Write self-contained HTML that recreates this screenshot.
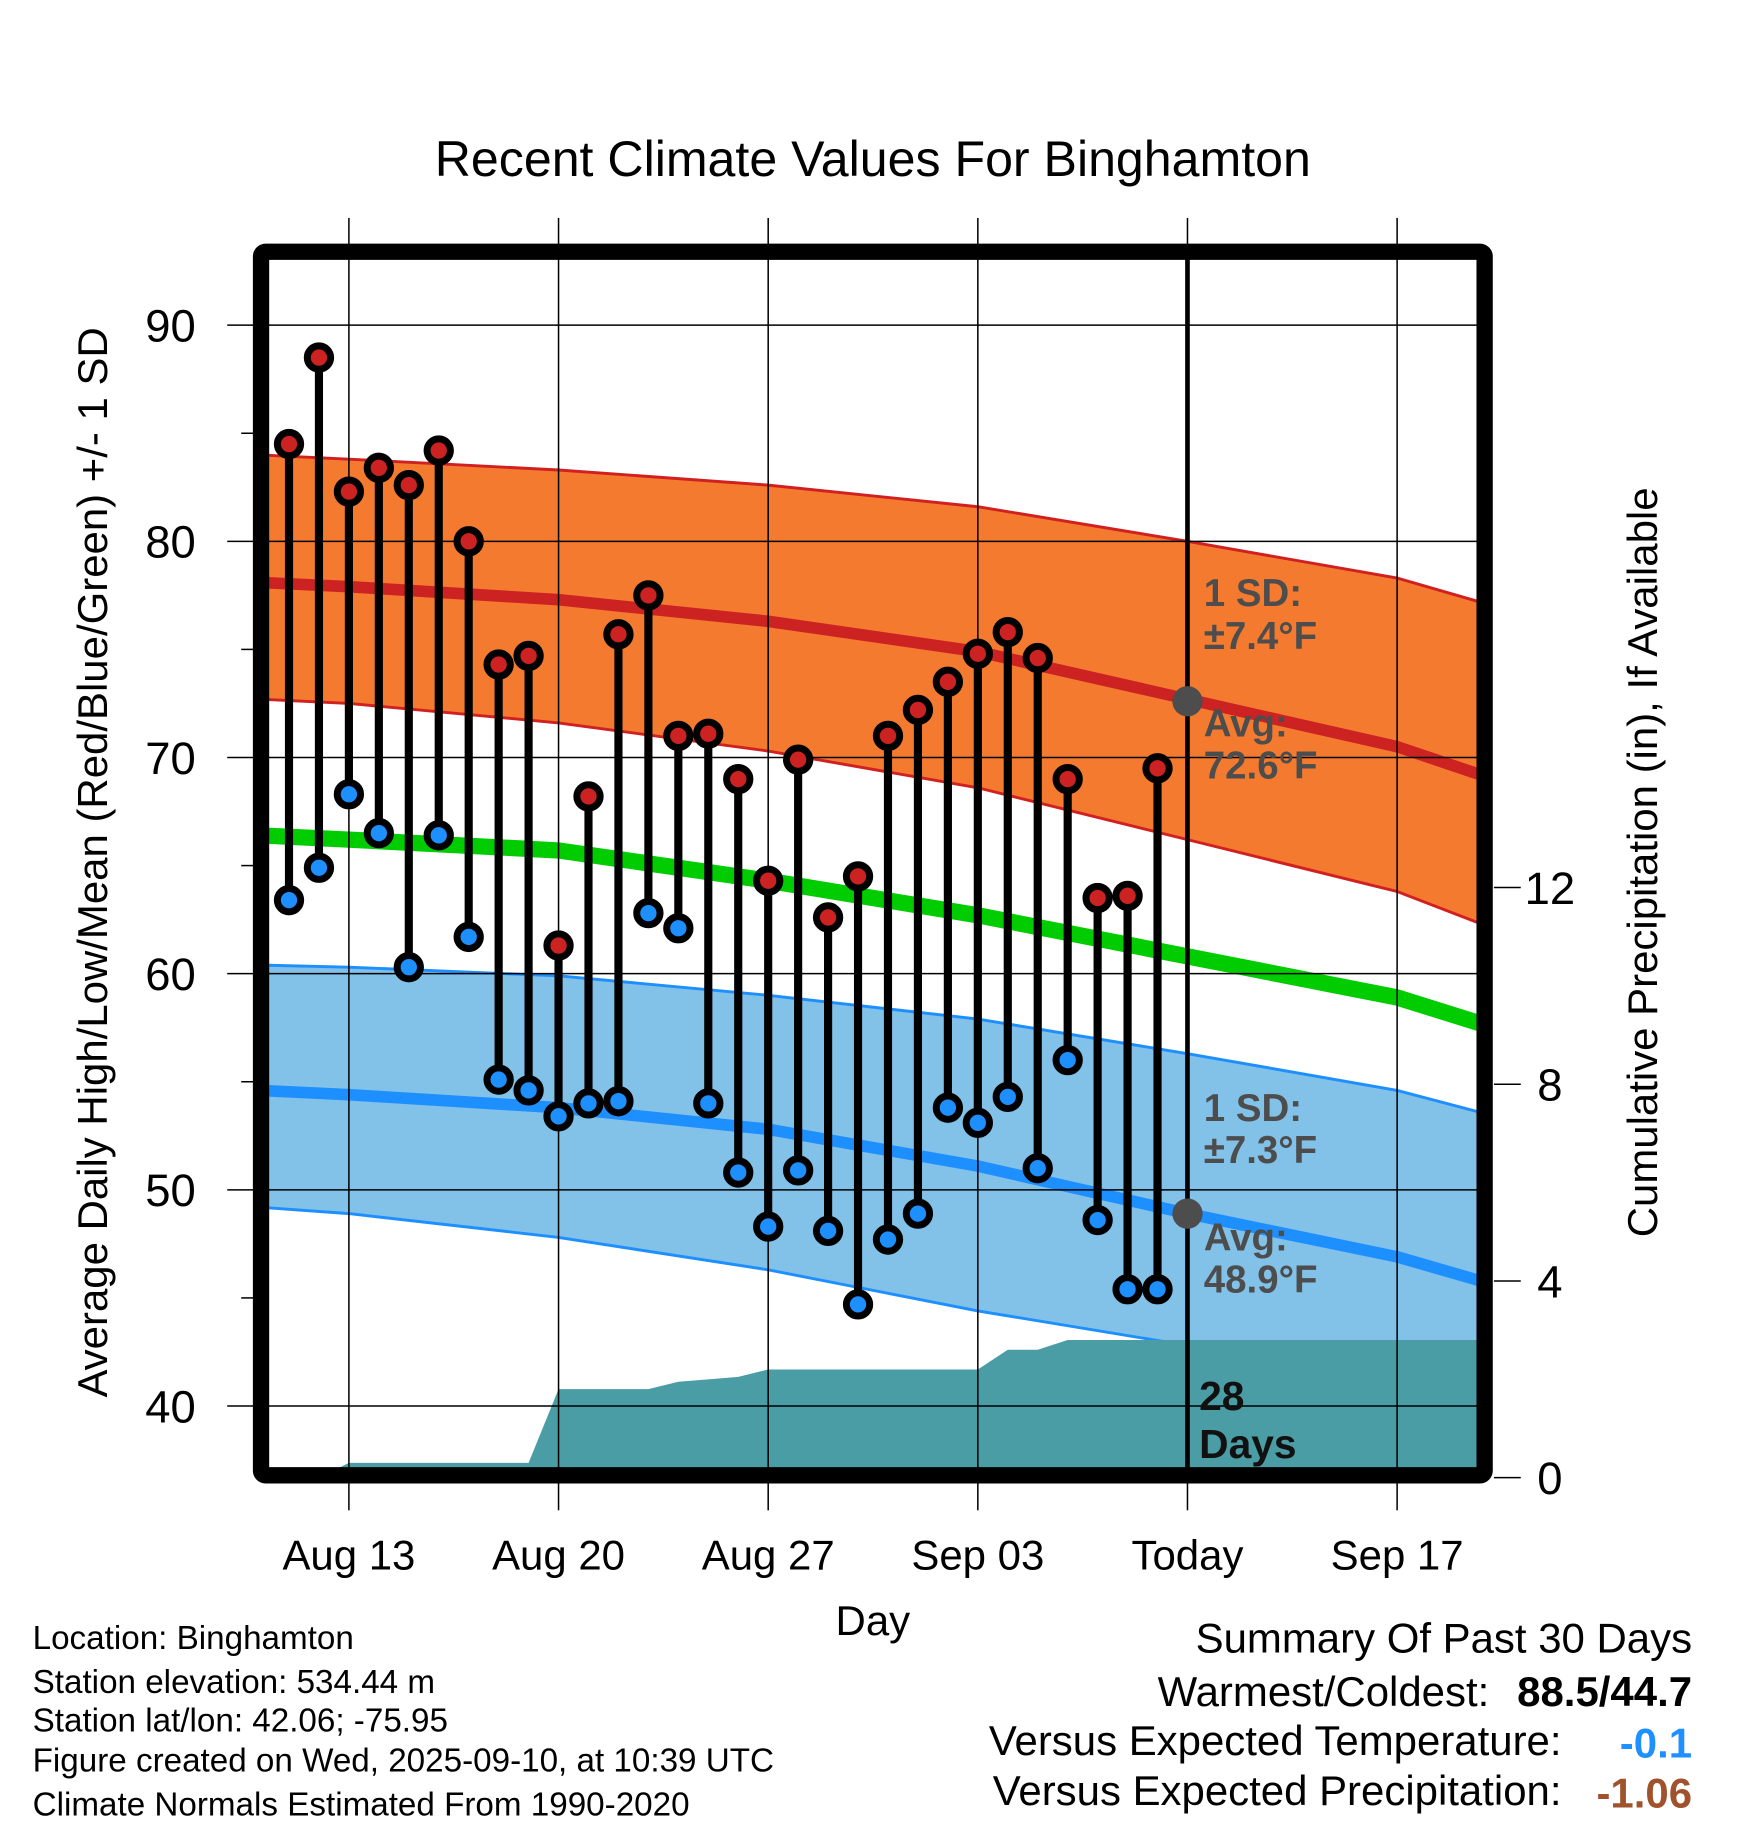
<!DOCTYPE html>
<html><head><meta charset="utf-8"><style>
html,body{margin:0;padding:0;background:#fff;}
svg{display:block;font-family:"Liberation Sans",Arial,sans-serif;}
</style></head><body>
<svg id="chart" width="1748" height="1828" viewBox="0 0 1500 1568.6" xmlns="http://www.w3.org/2000/svg">
<rect width="1500" height="1568.6" fill="#fff"/>
<text x="749" y="151" font-size="43" text-anchor="middle">Recent Climate Values For Binghamton</text>
<defs><clipPath id="inner"><rect x="230" y="222" width="1038" height="1038"/></clipPath></defs>
<g id="plot" clip-path="url(#inner)"></g>
<g id="axes"></g>
</svg>
<script>
// ---- data ----
const days = ["Aug 11","Aug 12","Aug 13","Aug 14","Aug 15","Aug 16","Aug 17","Aug 18","Aug 19","Aug 20","Aug 21","Aug 22","Aug 23","Aug 24","Aug 25","Aug 26","Aug 27","Aug 28","Aug 29","Aug 30","Aug 31","Sep 01","Sep 02","Sep 03","Sep 04","Sep 05","Sep 06","Sep 07","Sep 08","Sep 09"];
const highs = [84.5,88.5,82.3,83.4,82.6,84.2,80.0,74.3,74.7,61.3,68.2,75.7,77.5,71.0,71.1,69.0,64.3,69.9,62.6,64.5,71.0,72.2,73.5,74.8,75.8,74.6,69.0,63.5,63.6,69.5];
const lows = [63.4,64.9,68.3,66.5,60.3,66.4,61.7,55.1,54.6,53.4,54.0,54.1,62.8,62.1,54.0,50.8,48.3,50.9,48.1,44.7,47.7,48.9,53.8,53.1,54.3,51.0,56.0,48.6,45.4,45.4];
const precip = [0,0,0.3,0.3,0.3,0.3,0.3,0.3,0.3,1.8,1.8,1.8,1.8,1.95,2.0,2.05,2.2,2.2,2.2,2.2,2.2,2.2,2.2,2.2,2.6,2.6,2.8,2.8,2.8,2.8];
// normals at day offsets from Aug 11
const normDays = [-1,2,9,16,23,30,37,40];
const normHighAvg = [78.1,77.9,77.3,76.3,74.9,72.7,70.5,69.1];
const normHighUp = [84.0,83.8,83.3,82.6,81.6,80.0,78.3,77.1];
const normHighLo = [72.7,72.5,71.6,70.3,68.6,66.2,63.8,62.2];
const normMean = [66.4,66.2,65.7,64.3,62.7,60.8,58.9,57.6];
const normLowAvg = [54.6,54.4,53.8,52.8,51.1,48.9,46.9,45.7];
const normLowUp = [60.4,60.3,59.9,59.0,57.9,56.3,54.6,53.5];
const normLowLo = [49.2,48.9,47.8,46.3,44.4,42.8,41.1,40.0];
const xTickDays = [2,9,16,23,30,37];
const xTickLabels = ["Aug 13","Aug 20","Aug 27","Sep 03","Today","Sep 17"];
const yTicks = [40,50,60,70,80,90];
const yTickLabels = ["40","50","60","70","80","90"];
const pTicks = [0,4,8,12];
const todayDay = 30;
const todayHigh = 72.6, todayLow = 48.9;

// ---- axes ----
const X = d => 248 + d*25.7;
const Y = v => 279 + (90 - v)*18.55;
const P = p => 1268 - p*42.2;
const NS = "http://www.w3.org/2000/svg";
const plot = document.getElementById('plot'), axes = document.getElementById('axes');
function mk(tag, attrs, parent, text){const e=document.createElementNS(NS,tag);for(const k in attrs)e.setAttribute(k,attrs[k]);if(text!==undefined)e.textContent=text;parent.appendChild(e);return e;}
const pts = (ds, vs) => ds.map((d,i)=>X(d)+","+Y(vs[i])).join(" ");
function band(up, lo, fill, name){
  const p = pts(normDays, up) + " " + normDays.slice().reverse().map((d,i)=>X(d)+","+Y(lo[lo.length-1-i])).join(" ");
  const e = mk('polygon',{points:p,fill:fill},plot);
  
  
}
function line(vs, color, w, name){
  const e = mk('polyline',{points:pts(normDays,vs),fill:'none',stroke:color,'stroke-width':w},plot);
  
  
}
band(normHighUp, normHighLo, '#f47a30', 'high-sd-band');
band(normLowUp, normLowLo, '#82c1e8', 'low-sd-band');
line(normHighUp,'#d02020',2.5,'high-sd-upper'); line(normHighLo,'#d02020',2.5,'high-sd-lower');
line(normLowUp,'#1e8fff',2.5,'low-sd-upper'); line(normLowLo,'#1e8fff',2.5,'low-sd-lower');
line(normHighAvg,'#cc2222',10,'avg-high-line');
line(normMean,'#00cc00',14,'avg-mean-line');
line(normLowAvg,'#1e8fff',10,'avg-low-line');
// precip area
let pp = precip.map((v,i)=>X(i)+","+P(v)).join(" ");
pp += " 1300,"+P(precip[precip.length-1])+" 1300,1300 "+X(0)+",1300";
const pa = mk('polygon',{points:pp,fill:'#4a9ca5'},plot);


// grid
yTicks.forEach(v=>{const g=mk('line',{x1:230,x2:1268,y1:Y(v),y2:Y(v),stroke:'#000','stroke-width':1.3},plot);

});
xTickDays.forEach(d=>{const g=mk('line',{x1:X(d),x2:X(d),y1:222,y2:1260,stroke:'#000','stroke-width':1.3},plot);

});
// stems and dots
days.forEach((d,i)=>{
  const s = mk('line',{x1:X(i),x2:X(i),y1:Y(highs[i]),y2:Y(lows[i]),stroke:'#000','stroke-width':7},plot);
  
  
});
days.forEach((d,i)=>{
  const h = mk('circle',{cx:X(i),cy:Y(highs[i]),r:10,fill:'#cc2222',stroke:'#000','stroke-width':6},plot);
  
  
  const l = mk('circle',{cx:X(i),cy:Y(lows[i]),r:10,fill:'#1e8fff',stroke:'#000','stroke-width':6},plot);
  
  
});
// today line & markers
const tl = mk('line',{x1:X(todayDay),x2:X(todayDay),y1:222,y2:1260,stroke:'#000','stroke-width':4},plot);


[todayHigh,todayLow].forEach(v=>{const c=mk('circle',{cx:X(todayDay),cy:Y(v),r:13,fill:'#4d4d4d'},plot);

});
// annotations
const ann = [["1 SD:",520],["±7.4°F",557],["Avg:",632],["72.6°F",668],["1 SD:",962],["±7.3°F",998],["Avg:",1073],["48.9°F",1109]];
ann.forEach(a=>{const t=mk('text',{x:1033,y:a[1],'font-size':33,'font-weight':'bold',fill:'#4d4d4d'},plot,a[0]);

});
[["28",1210],["Days",1251]].forEach(a=>{const t=mk('text',{x:1029,y:a[1],'font-size':35,'font-weight':'bold',fill:'#111'},plot,a[0]);

});
// frame
const fr = mk('rect',{x:224,y:216,width:1050,height:1050,fill:'none',stroke:'#000','stroke-width':14,rx:4},axes);


// ticks
xTickDays.forEach((d,i)=>{
  mk('line',{x1:X(d),x2:X(d),y1:187,y2:210,stroke:'#000','stroke-width':1.3},axes);
  mk('line',{x1:X(d),x2:X(d),y1:1272,y2:1296,stroke:'#000','stroke-width':1.3},axes);
  const t = mk('text',{x:X(d),y:1347,'font-size':36,'text-anchor':'middle'},axes,xTickLabels[i]);
  
  
});
yTicks.forEach((v,i)=>{
  mk('line',{x1:195,x2:218,y1:Y(v),y2:Y(v),stroke:'#000','stroke-width':1.3},axes);
  if (v < 90) mk('line',{x1:207,x2:218,y1:Y(v+5),y2:Y(v+5),stroke:'#000','stroke-width':1.3},axes);
  const t = mk('text',{x:168,y:Y(v)+14,'font-size':39,'text-anchor':'end'},axes,yTickLabels[i]);
  
  
});
pTicks.forEach(p=>{
  mk('line',{x1:1282,x2:1305,y1:P(p),y2:P(p),stroke:'#000','stroke-width':1.3},axes);
  const t = mk('text',{x:1330,y:P(p)+14,'font-size':39,'text-anchor':'middle'},axes,String(p));
  
  
});
</script>
<svg style="position:absolute;left:0;top:0" width="1748" height="1828" viewBox="0 0 1500 1568.6" xmlns="http://www.w3.org/2000/svg" font-family="Liberation Sans, Arial, sans-serif">
<text x="749" y="1403" font-size="36" text-anchor="middle">Day</text>
<text transform="translate(92,740) rotate(-90)" font-size="36" text-anchor="middle">Average Daily High/Low/Mean (Red/Blue/Green) +/- 1 SD</text>
<text transform="translate(1422,740) rotate(-90)" font-size="36" text-anchor="middle">Cumulative Precipitation (in), If Available</text>
<g font-size="28.5">
<text x="28" y="1415">Location: Binghamton</text>
<text x="28" y="1453">Station elevation: 534.44 m</text>
<text x="28" y="1486">Station lat/lon: 42.06; -75.95</text>
<text x="28" y="1520">Figure created on Wed, 2025-09-10, at 10:39 UTC</text>
<text x="28" y="1558">Climate Normals Estimated From 1990-2020</text>
</g>
<g font-size="36">
<text x="1452" y="1418" text-anchor="end">Summary Of Past 30 Days</text>
<text x="1278" y="1464" text-anchor="end">Warmest/Coldest:</text>
<text x="1452" y="1464" text-anchor="end" font-weight="bold">88.5/44.7</text>
<text x="1340" y="1506" text-anchor="end">Versus Expected Temperature:</text>
<text x="1452" y="1508" text-anchor="end" font-weight="bold" fill="#1e90ff">-0.1</text>
<text x="1340" y="1549" text-anchor="end">Versus Expected Precipitation:</text>
<text x="1452" y="1551" text-anchor="end" font-weight="bold" fill="#a0522d">-1.06</text>
</g>
</svg>
</body></html>
